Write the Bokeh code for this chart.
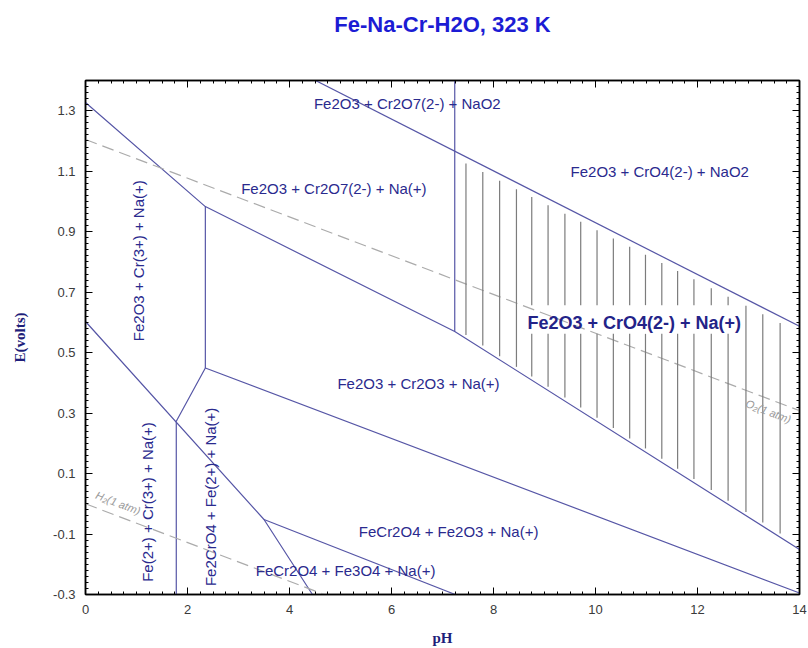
import numpy as np
from bokeh.plotting import figure
from bokeh.models import Range1d, FixedTicker, LinearAxis, NumeralTickFormatter
from bokeh.core.properties import value
from bokeh.embed import file_html
from bokeh.resources import INLINE

# ---------------- data ----------------
title_text = "Fe-Na-Cr-H2O, 323 K"
x_label = "pH"
y_label = "E(volts)"
x_ticks = [0, 2, 4, 6, 8, 10, 12, 14]
y_ticks = [-0.3, -0.1, 0.1, 0.3, 0.5, 0.7, 0.9, 1.1, 1.3]

# phase boundaries (pH, E)
line_a_ph = [0.0, 2.35, 7.24, 14.0]
line_a_e = [1.327, 0.983, 0.570, -0.151]
line_b_ph = [4.51, 14.0]
line_b_e = [1.40, 0.587]
line_c_ph = [7.24, 7.24]
line_c_e = [1.40, 0.570]
line_d_ph = [2.35, 2.35]
line_d_e = [0.983, 0.449]
line_e_ph = [1.78, 2.35, 14.0]
line_e_e = [0.273, 0.449, -0.295]
line_f_ph = [1.78, 1.78]
line_f_e = [0.273, -0.30]
line_g_ph = [0.0, 3.50, 4.45]
line_g_e = [0.603, -0.052, -0.30]
line_h_ph = [3.50, 7.25]
line_h_e = [-0.052, -0.30]

# water stability lines
o2_ph = [0.0, 14.0]
o2_e = [1.205, 0.308]
h2_ph = [0.0, 4.68]
h2_e = [0.0, -0.30]

# hatching of the Fe2O3 + CrO4(2-) + Na(+) field
hatch_ph = [7.46, 7.79, 8.12, 8.45, 8.75, 9.07, 9.40, 9.71, 10.03, 10.35,
            10.67, 10.98, 11.30, 11.61, 11.93, 12.27, 12.60, 12.95, 13.28, 13.62]
hatch_gap_ph = [8.6, 12.8]
hatch_gap_e = [0.562, 0.657]

# region labels
lab_h_text = ["Fe2O3 + Cr2O7(2-) + NaO2", "Fe2O3 + Cr2O7(2-) + Na(+)",
              "Fe2O3 + CrO4(2-) + NaO2", "Fe2O3 + Cr2O3 + Na(+)",
              "FeCr2O4 + Fe2O3 + Na(+)", "FeCr2O4 + Fe3O4 + Na(+)"]
lab_h_ph = [6.31, 4.87, 11.26, 6.53, 7.12, 5.10]
lab_h_e = [1.323, 1.044, 1.100, 0.398, -0.091, -0.219]
lab_v_text = ["Fe2O3 + Cr(3+) + Na(+)", "Fe(2+) + Cr(3+) + Na(+)", "Fe2CrO4 + Fe(2+) + Na(+)"]
lab_v_ph = [1.03, 1.21, 2.45]
lab_v_e = [0.804, 0.006, 0.023]
lab_b_text = ["Fe2O3 + CrO4(2-) + Na(+)"]
lab_b_ph = [10.76]
lab_b_e = [0.598]
water_text = ["O\u2082(1 atm)", "H\u2082(1 atm)"]
water_ph = [13.39, 0.64]
water_e = [0.306, 0.003]

# ---------------- styles ----------------
LINE_COL = "#5656a6"
TEXT_COL = "#2a2a8e"
FONT = "Liberation Sans"

p = figure(width=808, height=648, x_range=Range1d(0, 14), y_range=Range1d(-0.3, 1.4),
           output_backend="svg", toolbar_location=None,
           min_border_left=85, min_border_right=9, min_border_top=80, min_border_bottom=53)
p.title.visible = False
p.xgrid.visible = False
p.ygrid.visible = False
p.outline_line_color = "black"
p.outline_line_width = 1.5

x_minor = list(np.round(np.arange(0, 14.001, 0.25), 3))
y_minor = list(np.round(np.arange(-0.3, 1.4001, 0.02), 3))

def style_axis(ax, ticks, minor, show_labels):
    ax.ticker = FixedTicker(ticks=ticks, minor_ticks=minor)
    ax.axis_line_color = "black"
    ax.axis_line_width = 1.5
    ax.major_tick_in = 7
    ax.major_tick_out = 0
    ax.minor_tick_in = 3
    ax.minor_tick_out = 0
    ax.major_tick_line_color = "black"
    ax.minor_tick_line_color = "black"
    ax.major_label_text_font = FONT
    ax.major_label_text_color = "#3a3a3a"
    if show_labels:
        ax.major_label_text_font_size = "13px"
    else:
        ax.major_label_text_font_size = "0px"
        ax.major_label_text_color = None
        ax.major_label_standoff = 0
        ax.axis_label_standoff = 0

xa = p.xaxis[0]
ya = p.yaxis[0]
style_axis(xa, x_ticks, x_minor, True)
style_axis(ya, y_ticks, y_minor, True)
ya.formatter = NumeralTickFormatter(format="0.0")
xa.major_label_standoff = 10
ya.major_label_standoff = 10
for ax, lab, st in ((xa, x_label, 13), (ya, y_label, 22)):
    ax.axis_label = lab
    ax.axis_label_text_font = "Liberation Serif"
    ax.axis_label_text_font_style = "bold"
    ax.axis_label_text_font_size = "15px"
    ax.axis_label_text_color = "#1e1e7a"
    ax.axis_label_standoff = st

# top mirror axis carries the chart title as its label
top_ax = LinearAxis()
style_axis(top_ax, x_ticks, x_minor, False)
top_ax.axis_label = title_text
top_ax.axis_label_text_font = FONT
top_ax.axis_label_text_font_size = "22px"
top_ax.axis_label_text_font_style = "bold"
top_ax.axis_label_text_color = "#1c1cd4"
top_ax.axis_label_standoff = 44
p.add_layout(top_ax, "above")

right_ax = LinearAxis()
style_axis(right_ax, y_ticks, y_minor, False)
p.add_layout(right_ax, "right")

# boundaries
p.multi_line(xs=[line_a_ph, line_b_ph, line_c_ph, line_d_ph, line_e_ph, line_f_ph, line_g_ph, line_h_ph],
             ys=[line_a_e, line_b_e, line_c_e, line_d_e, line_e_e, line_f_e, line_g_e, line_h_e],
             line_color=LINE_COL, line_width=1.2)

# water lines
p.multi_line(xs=[o2_ph, h2_ph], ys=[o2_e, h2_e], line_color="#ababab", line_width=1.2,
             line_dash="12 6")

# hatch
h = np.array(hatch_ph)
tops = np.interp(h, line_b_ph, line_b_e) - 0.022
bots = np.interp(h, line_a_ph, line_a_e) + 0.012
x0, y0, x1, y1 = [], [], [], []
for xv, b, t in zip(h, bots, tops):
    if hatch_gap_ph[0] <= xv <= hatch_gap_ph[1]:
        x0 += [xv, xv]; y0 += [b, hatch_gap_e[1]]
        x1 += [xv, xv]; y1 += [hatch_gap_e[0], t]
    else:
        x0.append(xv); y0.append(b); x1.append(xv); y1.append(t)
p.segment(x0=x0, y0=y0, x1=x1, y1=y1, line_color="#7c7c7c", line_width=1.2)

# labels
p.text(x=lab_h_ph, y=lab_h_e, text=lab_h_text, text_font=value(FONT), text_font_size="15px",
       text_color=TEXT_COL, text_align="center", text_baseline="middle")
p.text(x=lab_v_ph, y=lab_v_e, text=lab_v_text, text_font=value(FONT), text_font_size="15px",
       text_color=TEXT_COL, text_align="center", text_baseline="middle", angle=np.pi / 2)
p.text(x=lab_b_ph, y=lab_b_e, text=lab_b_text, text_font=value(FONT), text_font_size="18px",
       text_font_style="bold", text_color="#232388", text_align="center", text_baseline="middle")
p.text(x=water_ph, y=water_e, text=water_text, text_font=value(FONT), text_font_size="11px",
       text_font_style="italic", text_color="#9a9a9a", text_align="center", text_baseline="middle",
       angle=-0.363)

open("out.html", "w").write(file_html(p, INLINE))
